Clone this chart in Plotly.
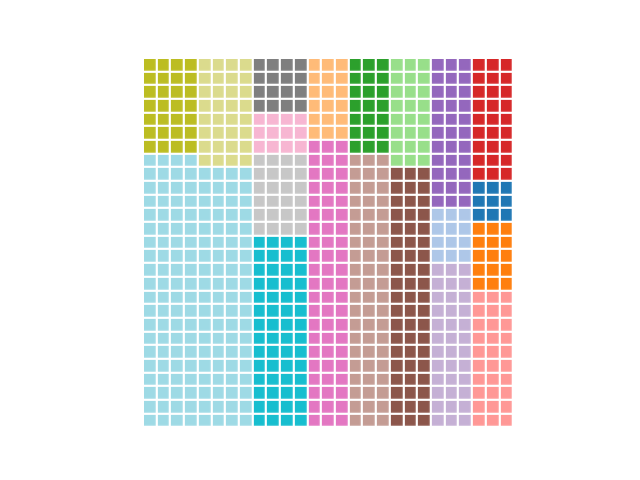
import plotly.graph_objects as go

# tab20 palette, indexed by category
categories = [f"C{i}" for i in range(20)]
colors = ["#1f77b4", "#aec7e8", "#ff7f0e", "#ffbb78", "#2ca02c", "#98df8a",
          "#d62728", "#ff9896", "#9467bd", "#c5b0d5", "#8c564b", "#c49c94",
          "#e377c2", "#f7b6d2", "#7f7f7f", "#c7c7c7", "#bcbd22", "#dbdb8d",
          "#17becf", "#9edae5"]

n_rows = 27
# column bands (left to right) with their segments from top to bottom
band_widths = [4, 4, 4, 3, 3, 3, 3, 3]
band_categories = [
    ["C16", "C19"],
    ["C17", "C19"],
    ["C14", "C13", "C15", "C18"],
    ["C3", "C12"],
    ["C4", "C11"],
    ["C5", "C10"],
    ["C8", "C1", "C9"],
    ["C6", "C0", "C2", "C7"],
]
band_counts = [
    [28, 80],
    [32, 76],
    [16, 12, 24, 56],
    [18, 63],
    [21, 60],
    [24, 57],
    [33, 12, 36],
    [27, 9, 15, 30],
]

n_cols = sum(band_widths)
z = [[None] * n_cols for _ in range(n_rows)]
text = [[""] * n_cols for _ in range(n_rows)]
start = 0
for w, cats, cnts in zip(band_widths, band_categories, band_counts):
    k = 0
    for cat, cnt in zip(cats, cnts):
        idx = categories.index(cat)
        for _ in range(cnt):
            r, c = k // w, start + k % w
            z[r][c] = idx
            text[r][c] = cat
            k += 1
    start += w

n = len(colors)
colorscale = []
for i, col in enumerate(colors):
    colorscale.append([i / n, col])
    colorscale.append([(i + 1) / n, col])

gap_units = 0.2 / 1.2
half = gap_units / 2

fig = go.Figure(go.Heatmap(
    z=z, x=list(range(n_cols)), y=list(range(n_rows)),
    text=text, hoverinfo="text",
    colorscale=colorscale, zmin=-0.5, zmax=n - 0.5,
    showscale=False, xgap=2.2, ygap=2.2,
))
fig.update_layout(
    width=640, height=480,
    margin=dict(l=144, r=128, t=59, b=54),
    paper_bgcolor="white", plot_bgcolor="white",
    xaxis=dict(visible=False, range=[-0.5 + half, n_cols - 0.5 - half], fixedrange=True),
    yaxis=dict(visible=False, range=[n_rows - 0.5 - half, -0.5 + half], fixedrange=True),
    showlegend=False,
)
fig.write_html("out.html")
